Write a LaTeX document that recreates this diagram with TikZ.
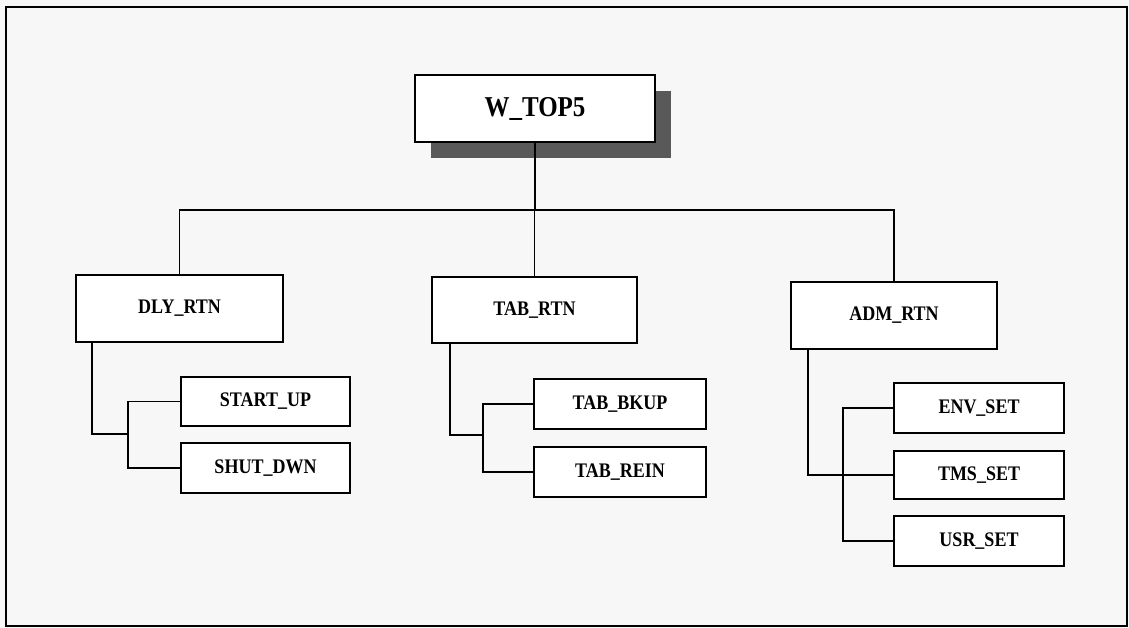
\documentclass[tikz,border=0pt]{standalone}
\usepackage{fontspec}
\usepackage{graphicx}
\setmainfont{Liberation Serif}
\newcommand{\tall}[1]{\scalebox{1}[1.15]{#1}}
\begin{document}
\begin{tikzpicture}[x=1pt,y=-1pt,
  box/.style={draw=black,line width=1.8pt,fill=white,inner sep=0pt,
    font=\fontsize{18}{20}\selectfont\bfseries},
  conn/.style={draw=black,line width=1.3pt}]
\useasboundingbox[fill=black!3] (0,0) rectangle (1129,628);
\draw[line width=1.6pt] (6,7) rectangle (1127,626);
% shadow of top box
\fill[black!65] (431,91) rectangle (671,158);
\node[box,minimum width=240pt,minimum height=67pt,font=\fontsize{25}{28}\selectfont\bfseries] (top) at (535,108.5) {\tall{W\_TOP5}};
% level 1
\node[box,minimum width=207pt,minimum height=67pt] (dly) at (179.5,308.5) {\tall{DLY\_RTN}};
\node[box,minimum width=205pt,minimum height=66pt] (tab) at (534.5,310) {\tall{TAB\_RTN}};
\node[box,minimum width=206pt,minimum height=67pt] (adm) at (894,315.5) {\tall{ADM\_RTN}};
% level 2
\node[box,minimum width=169pt,minimum height=49pt] (start) at (265.5,401.5) {\tall{START\_UP}};
\node[box,minimum width=169pt,minimum height=50pt] (shut) at (265.5,468) {\tall{SHUT\_DWN}};
\node[box,minimum width=172pt,minimum height=50pt] (bkup) at (620,404) {\tall{TAB\_BKUP}};
\node[box,minimum width=172pt,minimum height=50pt] (rein) at (620,472) {\tall{TAB\_REIN}};
\node[box,minimum width=170pt,minimum height=50pt] (env) at (979,408) {\tall{ENV\_SET}};
\node[box,minimum width=170pt,minimum height=48pt] (tms) at (979,475) {\tall{TMS\_SET}};
\node[box,minimum width=170pt,minimum height=50pt] (usr) at (979,541) {\tall{USR\_SET}};
% bus
\coordinate (bus) at (535,210);
\draw[conn] (top.south) -- (top.south |- bus);
\draw[conn] (dly.north) -- (dly.north |- bus) -- (adm.north |- bus) -- (adm.north);
\draw[conn] (tab.north) -- (tab.north |- bus);
% DLY subtree
\coordinate (dlyJ) at (128,434);
\draw[conn] ([xshift=17pt]dly.south west) |- (dlyJ);
\draw[conn] (start.west) -| (dlyJ) |- (shut.west);
% TAB subtree
\coordinate (tabJ) at (483,435);
\draw[conn] ([xshift=19pt]tab.south west) |- (tabJ);
\draw[conn] (bkup.west) -| (tabJ) |- (rein.west);
% ADM subtree
\coordinate (admX) at (843,0);
\draw[conn] ([xshift=18pt]adm.south west) |- (tms.west);
\draw[conn] (env.west) -| (admX |- usr.west) -- (usr.west);
\end{tikzpicture}
\end{document}
